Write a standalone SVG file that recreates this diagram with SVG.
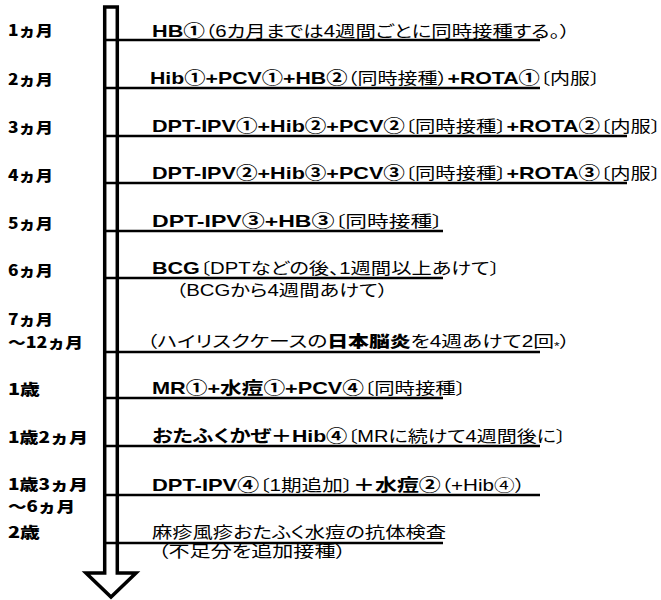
<svg xmlns="http://www.w3.org/2000/svg" width="661" height="600" viewBox="0 0 661 600">
<style>
.lbl{font-family:"Noto Sans CJK JP","Noto Sans CJK SC",sans-serif;font-size:15px;font-weight:900;fill:#000}
.t{font-family:"Liberation Sans","Noto Sans CJK JP",sans-serif;font-size:16px;fill:#000;font-feature-settings:"palt"}
.b{font-weight:bold;font-size:17px}
.k{font-family:"Noto Sans CJK JP",sans-serif;font-weight:900}
.ln{stroke:#000;stroke-width:2.6;fill:none}
.arrow{fill:#fff;stroke:#000;stroke-width:3.5;stroke-linejoin:miter}
</style>
<rect width="661" height="600" fill="#fff"/>
<g id="timeline-arrow">
<path class="arrow" d="M104.7,573 V7 H117.3 V573 H136 L111,597 L86,573 Z"/>
</g>
<g id="connectors">
<line class="ln" x1="103" y1="40" x2="540" y2="40"/>
<line class="ln" x1="103" y1="88" x2="540" y2="88"/>
<line class="ln" x1="103" y1="136" x2="627" y2="136"/>
<line class="ln" x1="103" y1="183" x2="627" y2="183"/>
<line class="ln" x1="103" y1="231" x2="443" y2="231"/>
<line class="ln" x1="103" y1="278" x2="443" y2="278"/>
<line class="ln" x1="103" y1="352" x2="540" y2="352"/>
<line class="ln" x1="103" y1="398" x2="443" y2="398"/>
<line class="ln" x1="103" y1="446" x2="540" y2="446"/>
<line class="ln" x1="103" y1="495" x2="540" y2="495"/>
<line class="ln" x1="103" y1="543" x2="443" y2="543"/>
</g>
<g id="row-1m">
<text class="lbl" x="8" y="36" textLength="45" lengthAdjust="spacingAndGlyphs">1ヵ月</text>
<text class="t" x="152" y="37" textLength="418" lengthAdjust="spacingAndGlyphs"><tspan class="b">HB①</tspan>（6カ月までは4週間ごとに同時接種する。）</text>
</g>
<g id="row-2m">
<text class="lbl" x="8" y="85" textLength="45" lengthAdjust="spacingAndGlyphs">2ヵ月</text>
<text class="t" x="150" y="84" textLength="450" lengthAdjust="spacingAndGlyphs"><tspan class="b">Hib①+PCV①+HB②</tspan>（同時接種）<tspan class="b">+ROTA①</tspan>〔内服〕</text>
</g>
<g id="row-3m">
<text class="lbl" x="8" y="133" textLength="45" lengthAdjust="spacingAndGlyphs">3ヵ月</text>
<text class="t" x="152" y="132" textLength="509" lengthAdjust="spacingAndGlyphs"><tspan class="b">DPT-IPV①+Hib②+PCV②</tspan>〔同時接種〕<tspan class="b">+ROTA②</tspan>〔内服〕</text>
</g>
<g id="row-4m">
<text class="lbl" x="8" y="181" textLength="45" lengthAdjust="spacingAndGlyphs">4ヵ月</text>
<text class="t" x="152" y="179" textLength="509" lengthAdjust="spacingAndGlyphs"><tspan class="b">DPT-IPV②+Hib③+PCV③</tspan>〔同時接種〕<tspan class="b">+ROTA③</tspan>〔内服〕</text>
</g>
<g id="row-5m">
<text class="lbl" x="8" y="229" textLength="45" lengthAdjust="spacingAndGlyphs">5ヵ月</text>
<text class="t" x="152" y="227" textLength="291" lengthAdjust="spacingAndGlyphs"><tspan class="b">DPT-IPV③+HB③</tspan>〔同時接種〕</text>
</g>
<g id="row-6m">
<text class="lbl" x="8" y="276" textLength="45" lengthAdjust="spacingAndGlyphs">6ヵ月</text>
<text class="t" x="152" y="274" textLength="348" lengthAdjust="spacingAndGlyphs"><tspan class="b">BCG</tspan>〔DPTなどの後、1週間以上あけて〕</text>
<text class="t" x="176" y="296" textLength="212" lengthAdjust="spacingAndGlyphs">（BCGから4週間あけて）</text>
</g>
<g id="row-7-12m">
<text class="lbl" x="8" y="325" textLength="45" lengthAdjust="spacingAndGlyphs">7ヵ月</text>
<text class="lbl" x="8" y="348" textLength="75" lengthAdjust="spacingAndGlyphs">～12ヵ月</text>
<text class="t" x="147" y="347" textLength="423" lengthAdjust="spacingAndGlyphs">（ハイリスクケースの<tspan class="k">日本脳炎</tspan>を4週あけて2回<tspan font-size="11" dy="3">*</tspan><tspan dy="-3">）</tspan></text>
</g>
<g id="row-1y">
<text class="lbl" x="8" y="395" textLength="32" lengthAdjust="spacingAndGlyphs">1歳</text>
<text class="t" x="152" y="394" textLength="314" lengthAdjust="spacingAndGlyphs"><tspan class="b">MR①+水痘①+PCV④</tspan>〔同時接種〕</text>
</g>
<g id="row-1y2m">
<text class="lbl" x="8" y="443" textLength="80" lengthAdjust="spacingAndGlyphs">1歳2ヵ月</text>
<text class="t" x="152" y="442" textLength="414" lengthAdjust="spacingAndGlyphs"><tspan class="b">おたふくかぜ＋Hib④</tspan>〔MRに続けて4週間後に〕</text>
</g>
<g id="row-1y3m">
<text class="lbl" x="8" y="490" textLength="80" lengthAdjust="spacingAndGlyphs">1歳3ヵ月</text>
<text class="lbl" x="8" y="512" textLength="67" lengthAdjust="spacingAndGlyphs">～6ヵ月</text>
<text class="t" x="152" y="491" textLength="373" lengthAdjust="spacingAndGlyphs"><tspan class="b">DPT-IPV④</tspan>〔1期追加〕<tspan class="b">＋水痘②</tspan>（+Hib④）</text>
</g>
<g id="row-2y">
<text class="lbl" x="8" y="538" textLength="32" lengthAdjust="spacingAndGlyphs">2歳</text>
<text class="t" x="152" y="538" textLength="294" lengthAdjust="spacingAndGlyphs">麻疹風疹おたふく水痘の抗体検査</text>
<text class="t" x="158" y="557" textLength="188" lengthAdjust="spacingAndGlyphs">（不足分を追加接種）</text>
</g>
</svg>
